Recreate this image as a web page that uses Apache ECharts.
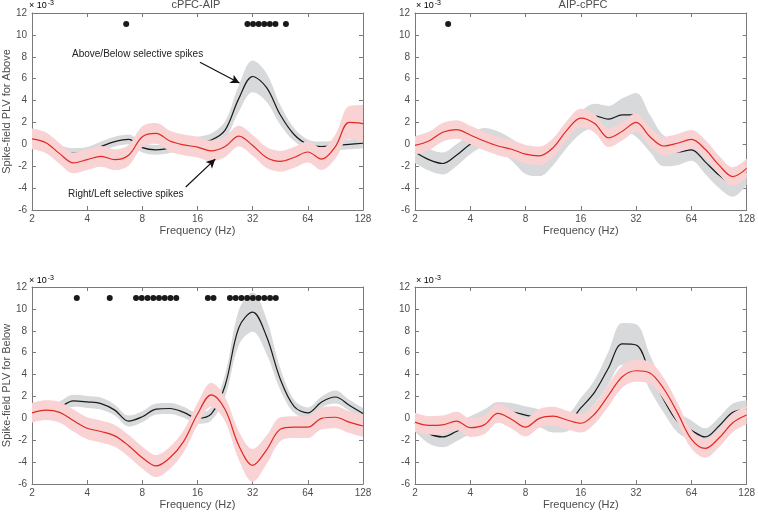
<!DOCTYPE html>
<html><head><meta charset="utf-8">
<script src="https://cdn.jsdelivr.net/npm/echarts@6/dist/echarts.min.js"></script>
<style>html,body{margin:0;padding:0;background:#fff}#c{width:758px;height:514px}</style>
</head><body><div id="c"></div>
<script>
// shared frequency grid (Hz), quarter-octave steps
const freqs = [2, 2.38, 2.83, 3.36, 4, 4.76, 5.66, 6.73, 8, 9.51, 11.31, 13.45, 16, 19.03, 22.63, 26.91, 32, 38.05, 45.25, 53.82, 64, 76.11, 90.51, 107.63, 128];
const xTicks = [2, 4, 8, 16, 32, 64, 128];
const yTicks = [-6, -4, -2, 0, 2, 4, 6, 8, 10, 12];
const panelTitles = ['cPFC-AIP', 'AIP-cPFC'];
const rowLabels = ['Spike-field PLV for Above', 'Spike-field PLV for Below'];

// Panel A: cPFC-AIP, Above (x1e-3)
const aboveCpfcBlack    = [0.5, 0.2, -0.5, -0.8, -0.7, -0.2, 0.25, 0.45, -0.3, -0.5, -0.35, 0.0, 0.2, 0.4, 1.3, 4.2, 6.2, 5.2, 2.7, 0.9, 0.0, -0.2, -0.1, 0.0, 0.1];
const aboveCpfcBlackErr = [0.45, 0.45, 0.45, 0.45, 0.45, 0.45, 0.45, 0.45, 0.45, 0.45, 0.45, 0.45, 0.5, 0.6, 0.8, 1.2, 1.45, 1.3, 0.9, 0.6, 0.45, 0.45, 0.45, 0.45, 0.45];
const aboveCpfcRed      = [0.5, 0.15, -0.85, -1.7, -1.4, -1.1, -1.4, -1.0, 0.7, 1.0, 0.3, -0.05, -0.25, -0.6, -0.2, 0.75, -0.1, -1.2, -1.55, -1.2, -0.7, -1.35, -0.2, 2.0, 1.9];
const aboveCpfcRedErr   = [0.95, 0.95, 0.95, 0.95, 0.95, 0.95, 0.95, 0.95, 0.95, 0.95, 0.95, 0.95, 0.95, 0.95, 0.95, 0.95, 0.95, 0.95, 0.95, 0.95, 0.95, 1.0, 1.1, 1.5, 1.7];
const aboveCpfcDots     = [6.53, 29.96, 32.15, 34.5, 37.0, 39.7, 42.6, 48.6];

// Panel B: AIP-cPFC, Above
const aboveAipBlack    = [-0.7, -1.4, -1.75, -1.0, 0.0, 0.6, 0.3, -0.5, -1.5, -1.7, -0.8, 0.7, 2.0, 2.6, 2.3, 2.7, 2.7, 1.0, -0.6, -0.7, -0.5, -1.6, -2.8, -3.6, -2.5];
const aboveAipBlackErr = [1.0, 1.0, 1.0, 1.0, 0.9, 0.9, 0.9, 1.0, 1.2, 1.2, 1.1, 1.0, 1.0, 1.1, 1.2, 1.5, 2.0, 1.7, 1.4, 1.2, 1.0, 1.1, 1.2, 1.2, 1.2];
const aboveAipRed      = [-0.1, 0.3, 1.1, 1.35, 0.85, 0.3, -0.15, -0.45, -0.9, -1.05, -0.3, 1.3, 2.4, 1.9, 0.6, 1.2, 2.0, 0.7, -0.15, 0.1, 0.45, -0.45, -1.9, -2.95, -2.2];
const aboveAipRedErr   = [0.85, 0.85, 0.85, 0.85, 0.85, 0.85, 0.85, 0.85, 0.85, 0.85, 0.85, 0.85, 0.85, 0.85, 0.85, 0.85, 0.85, 0.85, 0.85, 0.85, 0.85, 0.85, 0.85, 0.85, 0.85];
const aboveAipDots     = [3.03];

// Panel C: cPFC-AIP, Below
const belowCpfcBlack    = [0.5, 0.6, 1.0, 1.6, 1.5, 1.35, 0.75, -0.25, 0.15, 0.85, 0.9, 0.55, 0.0, 0.4, 3.0, 8.3, 9.7, 7.5, 3.6, 1.1, 0.5, 1.5, 1.95, 1.2, 0.45];
const belowCpfcBlackErr = [0.5, 0.5, 0.55, 0.55, 0.55, 0.55, 0.5, 0.5, 0.5, 0.5, 0.5, 0.5, 0.5, 0.6, 1.0, 1.6, 1.8, 1.6, 1.0, 0.6, 0.5, 0.5, 0.6, 0.5, 0.5];
const belowCpfcRed      = [0.5, 0.75, 0.55, -0.2, -0.9, -1.2, -1.6, -2.5, -3.6, -4.35, -3.6, -2.1, 0.4, 2.15, 0.8, -2.5, -4.3, -2.9, -1.0, -0.8, -0.8, 0.0, 0.1, -0.35, -0.7];
const belowCpfcRedErr   = [0.9, 0.9, 0.95, 1.0, 1.0, 1.0, 1.0, 1.0, 1.0, 1.0, 1.0, 1.0, 1.0, 1.1, 1.1, 1.3, 1.5, 1.3, 1.1, 1.0, 1.0, 1.0, 1.0, 1.0, 1.0];
const belowCpfcDots     = [3.51, 5.31, 7.39, 7.94, 8.54, 9.18, 9.86, 10.6, 11.39, 12.25, 18.23, 19.56, 24.05, 25.85, 27.78, 29.85, 32.08, 34.47, 37.05, 39.81, 42.78];

// Panel D: AIP-cPFC, Below
const belowAipBlack    = [-0.4, -1.4, -1.7, -1.2, -0.6, 0.0, 0.7, 0.6, 0.3, 0.0, -0.5, -0.4, 0.95, 2.4, 4.6, 6.8, 6.7, 4.2, 1.7, -0.3, -1.1, -1.7, -0.7, 0.55, 0.85];
const belowAipBlackErr = [0.8, 0.9, 0.95, 0.9, 0.8, 0.8, 0.8, 0.8, 0.8, 0.8, 0.8, 0.8, 0.9, 1.1, 1.5, 1.9, 1.9, 1.6, 1.2, 1.0, 0.9, 0.8, 0.8, 0.8, 0.8];
const belowAipRed      = [-0.35, -0.65, -0.6, -0.25, -0.85, -0.6, 0.45, -0.1, -0.8, 0.0, 0.2, -0.15, -0.45, 0.4, 2.1, 3.8, 4.35, 4.15, 2.7, 0.5, -1.9, -2.75, -1.8, -0.4, 0.3];
const belowAipRedErr   = [0.85, 0.85, 0.85, 0.85, 0.85, 0.85, 0.85, 0.85, 0.85, 0.85, 0.85, 0.85, 0.85, 0.9, 1.0, 1.0, 1.0, 1.0, 1.0, 0.9, 0.85, 0.85, 0.85, 0.85, 0.85];
const belowAipDots     = [];

const dotLevel = 11;
const panels = [
  {black: aboveCpfcBlack, blackErr: aboveCpfcBlackErr, red: aboveCpfcRed, redErr: aboveCpfcRedErr, dots: aboveCpfcDots},
  {black: aboveAipBlack, blackErr: aboveAipBlackErr, red: aboveAipRed, redErr: aboveAipRedErr, dots: aboveAipDots},
  {black: belowCpfcBlack, blackErr: belowCpfcBlackErr, red: belowCpfcRed, redErr: belowCpfcRedErr, dots: belowCpfcDots},
  {black: belowAipBlack, blackErr: belowAipBlackErr, red: belowAipRed, redErr: belowAipRedErr, dots: belowAipDots}
];

const FONT = 'Liberation Sans, Arial, Helvetica, sans-serif';
const AXC = '#7a7a7a', TXC = '#4d4d4d';
const GRAY = '#d8d9db', PINK = '#f9d2d3', BLACK = '#1a1a1a', RED = '#e02a22';
const grids = [
  {left: 28, top: 13, width: 335, height: 197},
  {left: 415, top: 13, width: 335, height: 197},
  {left: 28, top: 287, width: 335, height: 197},
  {left: 415, top: 287, width: 335, height: 197}
];

const xAxes = [], yAxes = [], series = [];
grids.forEach((g, i) => {
  const xBase = {type: 'log', logBase: 2, min: xTicks[0], max: xTicks[xTicks.length - 1], splitNumber: 6, gridIndex: i,
    axisLine: {show: true, onZero: false, lineStyle: {color: AXC, width: 1}}, axisTick: {show: true, inside: true, length: 4, lineStyle: {color: AXC}},
    splitLine: {show: false}, minorTick: {show: false}};
  xAxes.push(Object.assign({}, xBase, {position: 'bottom',
    axisLabel: {color: TXC, fontSize: 10, fontFamily: FONT, margin: 4},
    name: 'Frequency (Hz)', nameLocation: 'middle', nameGap: 15, nameTextStyle: {color: TXC, fontSize: 11, fontFamily: FONT}}));
  xAxes.push(Object.assign({}, xBase, {position: 'top', axisLabel: {show: false}}));
  const yBase = {type: 'value', min: yTicks[0], max: yTicks[yTicks.length - 1], interval: 2, gridIndex: i,
    axisLine: {show: true, onZero: false, lineStyle: {color: AXC, width: 1}}, axisTick: {show: true, inside: true, length: 4, lineStyle: {color: AXC}},
    splitLine: {show: false}};
  const left = Object.assign({}, yBase, {position: 'left', axisLabel: {color: TXC, fontSize: 10, fontFamily: FONT, margin: 5}});
  if (i % 2 === 0) {
    Object.assign(left, {name: rowLabels[i / 2], nameLocation: 'middle', nameGap: 15, nameRotate: 90,
      nameTextStyle: {color: TXC, fontSize: 11, fontFamily: FONT}});
  }
  yAxes.push(left);
  yAxes.push(Object.assign({}, yBase, {position: 'right', axisLabel: {show: false}}));
});

// Band = lower edge + stacked width. Value is put in column 0 so the stack runs along y.
function band(i, center, err, color, z, name) {
  const lower = center.map((v, k) => [v - err[k], freqs[k]]);
  const width = err.map((e, k) => [2 * e, freqs[k]]);
  const common = {type: 'line', xAxisIndex: i * 2, yAxisIndex: i * 2, smooth: 0.35, symbol: 'none', silent: true,
    encode: {x: 1, y: 0}, stack: name, stackStrategy: 'all', z: z, lineStyle: {width: 0, opacity: 0}};
  return [
    Object.assign({}, common, {data: lower}),
    Object.assign({}, common, {data: width, areaStyle: {color: color, opacity: 1}})
  ];
}

panels.forEach((p, i) => {
  series.push(...band(i, p.black, p.blackErr, GRAY, 1, 'g' + i));
  const blackSeries = {type: 'line', xAxisIndex: i * 2, yAxisIndex: i * 2, smooth: 0.35, symbol: 'none', silent: true, z: 2,
    data: p.black.map((v, k) => [freqs[k], v]), lineStyle: {color: BLACK, width: 1.2}};
  if (i === 0) {
    blackSeries.markLine = {silent: true, symbol: ['none', 'arrow'], symbolSize: [7, 9], animation: false,
      lineStyle: {color: '#111', width: 1.2, type: 'solid'}, label: {show: false},
      data: [
        [{coord: [16.5, 7.5]}, {coord: [27.1, 5.6]}],
        [{coord: [13.8, -3.9]}, {coord: [20.0, -1.35]}]
      ]};
  }
  series.push(blackSeries);
  series.push(...band(i, p.red, p.redErr, PINK, 3, 'r' + i));
  series.push({type: 'line', xAxisIndex: i * 2, yAxisIndex: i * 2, smooth: 0.35, symbol: 'none', silent: true, z: 4,
    data: p.red.map((v, k) => [freqs[k], v]), lineStyle: {color: RED, width: 1.2}});
  series.push({type: 'scatter', xAxisIndex: i * 2, yAxisIndex: i * 2, symbolSize: 6, silent: true, z: 5,
    itemStyle: {color: BLACK, opacity: 1}, data: p.dots.map(f => [f, dotLevel])});
});

function txt(x, y, s, size, align) {
  return {type: 'text', x: x, y: y, silent: true, z: 100,
    style: {text: s, fill: TXC, font: size + 'px ' + FONT, textAlign: align || 'center', textVerticalAlign: 'middle'}};
}
function scaleTxt(x, y) {
  return {type: 'text', x: x, y: y, silent: true, z: 100,
    style: {text: '{a|× 10}{b|-3}', textVerticalAlign: 'middle',
      rich: {a: {fontSize: 9, fontFamily: FONT, color: TXC, lineHeight: 12},
             b: {fontSize: 7, fontFamily: FONT, color: TXC, verticalAlign: 'top', lineHeight: 12, padding: [0, 0, 5, 1]}}}};
}
const graphics = [
  txt(196, 5, panelTitles[0], 11),
  txt(583, 5, panelTitles[1], 11),
  scaleTxt(29, 6), scaleTxt(416, 6), scaleTxt(29, 281), scaleTxt(416, 281),
  {type: 'text', x: 72, y: 54, silent: true, z: 100, style: {text: 'Above/Below selective spikes', fill: '#222', font: '10px ' + FONT, textVerticalAlign: 'middle'}},
  {type: 'text', x: 68, y: 194, silent: true, z: 100, style: {text: 'Right/Left selective spikes', fill: '#222', font: '10px ' + FONT, textVerticalAlign: 'middle'}}
];

const chart = echarts.init(document.getElementById('c'), null, {renderer: 'canvas'});
chart.setOption({
  animation: false,
  backgroundColor: '#fff',
  textStyle: {fontFamily: FONT},
  grid: grids.map(g => Object.assign({containLabel: false}, g)),
  xAxis: xAxes,
  yAxis: yAxes,
  series: series,
  graphic: graphics
});
</script></body></html>
